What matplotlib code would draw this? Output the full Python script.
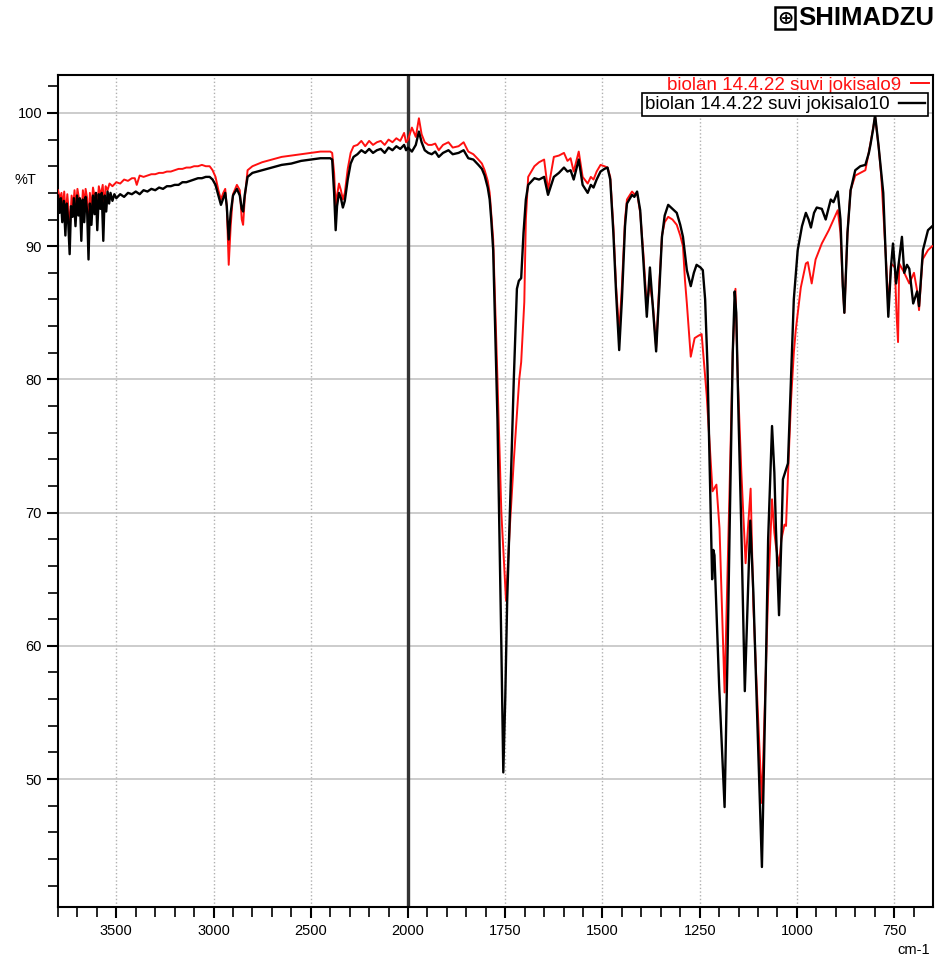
# FTIR spectra, Shimadzu style (scale change at 2000 cm-1)

import numpy as np
import matplotlib
matplotlib.use("Agg")
import matplotlib.pyplot as plt

plt.rcParams['font.family'] = ['Liberation Sans Narrow', 'Liberation Sans', 'DejaVu Sans']

label9 = "biolan 14.4.22 suvi jokisalo9"
label10 = "biolan 14.4.22 suvi jokisalo10"

# sample 10 (black)
wn10 = [3800, 3792, 3785, 3778, 3770, 3762, 3755, 3748, 3740, 3733, 3725, 3718, 3710, 3702, 3695,
        3688, 3680, 3673, 3665, 3658, 3650, 3643, 3636, 3628, 3620, 3612, 3605, 3598, 3590, 3582,
        3575, 3567, 3560, 3552, 3545, 3537, 3530, 3520, 3510, 3500, 3480, 3460, 3440, 3420, 3400,
        3380, 3360, 3340, 3320, 3300, 3280, 3260, 3240, 3220, 3200, 3180, 3160, 3140, 3120, 3100,
        3080, 3060, 3040, 3020, 3005, 2990, 2975, 2962, 2950, 2940, 2932, 2922, 2912, 2900, 2880,
        2865, 2855, 2848, 2840, 2825, 2800, 2750, 2700, 2650, 2600, 2550, 2500, 2450, 2400, 2390,
        2380, 2372, 2365, 2355, 2345, 2335, 2325, 2310, 2295, 2280, 2260, 2240, 2220, 2200, 2180,
        2160, 2140, 2120, 2100, 2080, 2060, 2040, 2020, 2010, 2000, 1990, 1980, 1972, 1965, 1957,
        1948, 1939, 1930, 1921, 1910, 1896, 1885, 1870, 1857, 1845, 1832, 1819, 1810, 1803, 1795,
        1790, 1786, 1781, 1770, 1760, 1755, 1750, 1745, 1735, 1728, 1720, 1715, 1709, 1703, 1697,
        1691, 1675, 1663, 1650, 1640, 1625, 1612, 1599, 1590, 1582, 1574, 1561, 1551, 1538, 1530,
        1523, 1515, 1505, 1495, 1487, 1480, 1472, 1465, 1457, 1450, 1442, 1437, 1424, 1418, 1411,
        1403, 1395, 1386, 1378, 1370, 1362, 1355, 1347, 1340, 1331, 1320, 1309, 1300, 1293, 1283,
        1273, 1265, 1258, 1248, 1242, 1236, 1230, 1224, 1218, 1215, 1212, 1200, 1186, 1178, 1173,
        1165, 1160, 1156, 1150, 1143, 1134, 1127, 1120, 1112, 1105, 1090, 1080, 1074, 1064, 1058,
        1054, 1046, 1040, 1036, 1023, 1015, 1008, 998, 987, 977, 970, 964, 956, 949, 936,
        926, 913, 906, 895, 888, 882, 878, 870, 862, 850, 837, 824, 815, 811, 804,
        799, 790, 778, 770, 765, 758, 753, 745, 737, 730, 724, 717, 711, 701, 691,
        686, 676, 663, 652]
t10 = [93.8, 92.5, 93.6, 91.8, 93.4, 90.8, 93.2, 92.0, 89.4, 93.0, 92.2, 93.6, 91.5, 93.8, 92.3,
       93.6, 90.4, 93.5, 91.8, 93.7, 92.6, 89.0, 93.2, 91.6, 93.8, 92.4, 94.0, 91.2, 93.9, 92.8,
       94.0, 90.4, 93.8, 92.6, 94.1, 93.2, 94.0, 93.4, 93.9, 93.6, 93.9, 93.7, 94.0, 93.9, 94.1,
       93.9, 94.2, 94.1, 94.3, 94.2, 94.4, 94.3, 94.5, 94.5, 94.6, 94.6, 94.8, 94.8, 94.9, 95.0,
       95.1, 95.1, 95.2, 95.2, 95.0, 94.6, 93.8, 93.1, 93.6, 94.0, 93.0, 90.5, 92.5, 93.8, 94.3,
       93.8, 92.8, 92.6, 93.8, 95.2, 95.5, 95.7, 95.9, 96.1, 96.2, 96.4, 96.5, 96.6, 96.6, 96.5,
       94.0, 91.2, 93.0, 94.0, 93.6, 92.9, 93.4, 95.0, 96.2, 96.7, 96.9, 97.2, 97.0, 97.3, 97.0,
       97.2, 97.3, 97.0, 97.4, 97.2, 97.5, 97.3, 97.6, 97.2, 97.4, 97.1, 97.6, 98.6, 97.8, 97.2,
       97.0, 96.9, 97.1, 96.7, 97.0, 97.2, 96.9, 97.0, 97.2, 96.6, 96.5, 96.1, 95.8, 95.3, 94.4,
       93.5, 92.0, 89.7, 77.0, 60.0, 50.5, 56.0, 63.4, 73.0, 80.0, 86.8, 87.4, 87.6, 91.0, 93.5,
       94.6, 95.1, 95.0, 95.2, 93.85, 95.2, 95.5, 95.9, 95.6, 95.7, 95.0, 96.5, 94.6, 94.0, 94.6,
       94.4, 95.0, 95.6, 95.8, 95.9, 95.0, 91.0, 86.5, 82.2, 86.0, 91.5, 93.2, 93.85, 93.7, 94.1,
       92.7, 89.0, 84.7, 88.4, 85.2, 82.1, 86.0, 90.7, 92.3, 93.1, 92.8, 92.5, 91.6, 90.7, 88.2,
       87.0, 88.0, 88.6, 88.4, 88.2, 86.0, 81.0, 73.1, 65.0, 67.2, 66.8, 57.0, 47.9, 60.0, 68.8,
       82.0, 86.6, 85.0, 77.0, 68.8, 56.6, 63.0, 69.4, 64.0, 57.3, 43.4, 58.0, 68.0, 76.5, 73.0,
       68.8, 62.3, 68.0, 72.5, 73.7, 80.3, 86.0, 89.7, 91.5, 92.5, 92.0, 91.4, 92.5, 92.9, 92.8,
       92.0, 93.5, 93.3, 94.1, 92.0, 87.0, 85.0, 91.0, 94.2, 95.7, 96.0, 96.1, 97.0, 97.6, 98.8,
       99.85, 97.5, 94.0, 88.0, 84.7, 88.5, 90.2, 87.2, 89.0, 90.7, 88.0, 88.6, 88.3, 85.7, 86.6,
       85.5, 89.7, 91.2, 91.5]

# sample 9 (red)
wn9 = [3800, 3790, 3782, 3775, 3768, 3760, 3752, 3745, 3738, 3730, 3722, 3715, 3708, 3700, 3690,
       3680, 3672, 3665, 3658, 3650, 3643, 3636, 3628, 3620, 3610, 3600, 3590, 3580, 3570, 3562,
       3555, 3545, 3535, 3520, 3500, 3480, 3460, 3440, 3420, 3405, 3395, 3380, 3360, 3340, 3320,
       3300, 3280, 3260, 3240, 3220, 3200, 3180, 3160, 3140, 3120, 3100, 3080, 3060, 3040, 3020,
       3005, 2990, 2975, 2962, 2950, 2940, 2932, 2922, 2912, 2900, 2880, 2865, 2855, 2848, 2840,
       2825, 2800, 2750, 2700, 2650, 2600, 2550, 2500, 2450, 2400, 2390, 2380, 2372, 2365, 2355,
       2345, 2335, 2325, 2310, 2295, 2280, 2260, 2240, 2220, 2200, 2180, 2160, 2140, 2120, 2100,
       2080, 2060, 2040, 2020, 2010, 2000, 1990, 1980, 1972, 1965, 1957, 1948, 1939, 1930, 1921,
       1910, 1896, 1885, 1870, 1857, 1845, 1832, 1819, 1810, 1803, 1795, 1790, 1781, 1770, 1760,
       1748, 1738, 1728, 1714, 1709, 1701, 1697, 1691, 1675, 1663, 1650, 1640, 1625, 1612, 1599,
       1590, 1582, 1574, 1561, 1551, 1538, 1530, 1523, 1515, 1505, 1495, 1487, 1480, 1472, 1465,
       1457, 1450, 1442, 1437, 1424, 1418, 1411, 1403, 1395, 1386, 1378, 1370, 1362, 1355, 1347,
       1340, 1331, 1320, 1309, 1300, 1293, 1288, 1283, 1273, 1263, 1252, 1245, 1232, 1217, 1207,
       1199, 1186, 1173, 1165, 1158, 1152, 1143, 1132, 1119, 1112, 1105, 1090, 1080, 1074, 1064,
       1058, 1054, 1046, 1040, 1032, 1028, 1020, 1015, 1008, 1003, 990, 977, 972, 962, 952,
       936, 918, 895, 888, 882, 878, 870, 862, 850, 837, 824, 811, 799, 790, 783,
       771, 765, 758, 748, 744, 740, 737, 724, 711, 699, 690, 686, 677, 663, 652]
t9 = [94.2, 93.6, 94.0, 92.8, 94.1, 92.3, 93.9, 92.6, 91.6, 93.8, 93.0, 94.2, 92.8, 94.3, 93.4,
      92.0, 94.2, 93.0, 94.3, 93.6, 91.0, 94.0, 92.8, 94.4, 93.6, 92.6, 94.5, 93.8, 94.6, 92.8,
      94.5, 94.2, 94.7, 94.5, 94.8, 94.7, 95.0, 94.9, 95.1, 95.1, 94.6, 95.3, 95.2, 95.3, 95.4,
      95.4, 95.5, 95.5, 95.6, 95.6, 95.7, 95.8, 95.8, 95.9, 95.9, 96.0, 96.0, 96.1, 96.0, 96.0,
      95.7, 95.2, 94.2, 93.5, 94.0, 94.3, 93.0, 88.6, 91.5, 93.9, 94.6, 94.2, 92.0, 91.6, 93.5,
      95.7, 96.0, 96.3, 96.5, 96.7, 96.8, 96.9, 97.0, 97.1, 97.1, 97.0, 95.5, 93.0, 93.8, 94.7,
      94.2, 93.5, 94.0, 95.8, 97.0, 97.5, 97.6, 97.9, 97.5, 97.9, 97.6, 97.8, 97.9, 97.6, 98.0,
      97.8, 98.1, 97.9, 98.5, 97.8, 98.0, 98.9, 98.2, 99.6, 98.4, 97.8, 97.6, 97.6, 97.7, 97.2,
      97.6, 97.8, 97.4, 97.5, 97.8, 97.1, 96.9, 96.5, 96.2, 95.7, 94.9, 94.0, 90.5, 80.0, 70.0,
      63.4, 69.0, 73.9, 80.0, 81.3, 85.8, 92.0, 95.2, 96.0, 96.3, 96.5, 94.2, 96.7, 96.8, 97.0,
      96.4, 96.6, 95.6, 97.1, 95.2, 94.7, 95.2, 95.0, 95.6, 96.1, 96.0, 95.9, 95.2, 91.5, 87.0,
      83.5, 87.0, 92.0, 93.5, 94.1, 93.9, 94.0, 92.5, 89.5, 85.5, 87.2, 85.5, 82.4, 86.5, 90.8,
      91.8, 92.2, 92.0, 91.6, 90.8, 90.0, 87.5, 85.7, 81.7, 83.1, 83.3, 83.4, 78.8, 71.6, 72.1,
      68.8, 56.5, 72.0, 82.0, 86.8, 80.0, 73.1, 66.2, 71.8, 63.0, 58.0, 48.2, 58.0, 64.0, 71.0,
      68.5, 67.5, 66.0, 68.0, 69.1, 69.0, 75.0, 78.5, 82.0, 83.7, 86.9, 88.7, 88.8, 87.2, 89.0,
      90.2, 91.2, 92.7, 91.0, 87.0, 85.0, 91.0, 94.2, 95.3, 95.5, 95.7, 97.7, 99.7, 97.5, 95.2,
      89.0, 85.5, 88.7, 88.4, 85.0, 82.8, 88.7, 88.0, 87.2, 88.0, 86.5, 85.2, 89.0, 89.7, 90.0]


# above 2000 cm-1 the axis runs at half scale
def fwd(w):
    w = np.asarray(w, dtype=float)
    return np.where(w > 2000, 2000 + (w - 2000) / 2.0, w)


def inv(u):
    u = np.asarray(u, dtype=float)
    return np.where(u > 2000, 2000 + (u - 2000) * 2.0, u)


fig = plt.figure(figsize=(9.46, 9.66), dpi=100)
ax = fig.add_axes([0.0613, 0.0611, 0.925, 0.8613])
ax.set_xscale('function', functions=(fwd, inv))
ax.set_xlim(3800, 650)
ax.set_ylim(40.4, 102.85)

ax.set_xticks([3500, 3000, 2500, 2000, 1750, 1500, 1250, 1000, 750])
ax.set_xticks(list(range(3800, 2000, -100)) + list(range(1950, 650, -50)), minor=True)
ax.set_yticks([50, 60, 70, 80, 90, 100])
ax.set_yticks(np.arange(42, 103, 2), minor=True)
ax.tick_params(axis='both', which='major', direction='out', length=8, width=1.5, labelsize=10.5)
ax.tick_params(axis='both', which='minor', direction='out', length=7, width=1.2)
ax.tick_params(axis='x', which='major', pad=4)

ax.grid(axis='y', which='major', color='#c4c4c4', lw=1.2, ls='-')
ax.grid(axis='x', which='major', color='#b0b0b0', lw=1.0, ls=':')
ax.set_axisbelow(True)
ax.axvline(2000, color='#333333', lw=2.4, zorder=1.5)

for s in ax.spines.values():
    s.set_linewidth(1.5)

red, = ax.plot(wn9, t9, color='#ff1010', lw=1.4, zorder=3)
blk, = ax.plot(wn10, t10, color='black', lw=1.7, zorder=4)

leg1 = ax.legend([red], [label9], loc='upper right', bbox_to_anchor=(0.998, 1.0),
                 frameon=False, markerfirst=False, labelcolor='#ff1010', fontsize=13.5,
                 handlelength=1.0, handletextpad=0.5, borderpad=0.1, borderaxespad=0)
ax.add_artist(leg1)
leg2 = ax.legend([blk], [label10], loc='upper right', bbox_to_anchor=(0.994, 0.978),
                 frameon=True, fancybox=False, edgecolor='black', framealpha=1,
                 markerfirst=False, fontsize=13.5, handlelength=1.4, handletextpad=0.5,
                 borderpad=0.15, borderaxespad=0)
leg2.get_frame().set_linewidth(1.2)

fig.text(25 / 946, 1 - 180 / 966, "%T", fontsize=10.5, ha='center', va='center')
fig.text(930 / 946, 1 - 950 / 966, "cm-1", fontsize=10.5, ha='right', va='center')

# maker's logo in the corner
fig.text(785 / 946, 1 - 18 / 966, "\u2295", fontsize=14, ha='center', va='center',
         family='DejaVu Sans', fontweight='bold',
         bbox=dict(boxstyle='square,pad=0.08', fc='white', ec='black', lw=1.8))
fig.text(798 / 946, 1 - 18 / 966, "SHIMADZU", fontsize=18.5, fontweight='bold',
         family=['Liberation Sans', 'DejaVu Sans'], ha='left', va='center')

fig.savefig("out.png", dpi=100)
